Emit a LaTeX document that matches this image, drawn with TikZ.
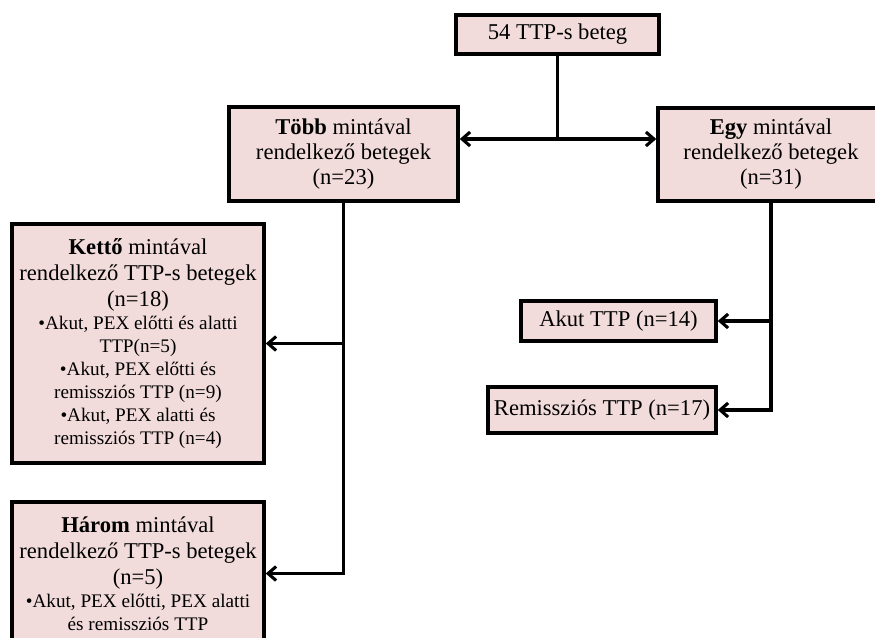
\documentclass[tikz,border=0pt]{standalone}
\usepackage{fontspec}
\setmainfont{Liberation Serif}
\usetikzlibrary{arrows.meta}
\definecolor{boxfill}{RGB}{242,220,219}
\newcommand{\smalltx}{\fontsize{19.2}{23}\selectfont}
\begin{document}
\begin{tikzpicture}[x=1pt,y=-1pt,
 box/.style={draw=black,line width=3.5pt,fill=boxfill,align=center,inner sep=0pt,
   font=\fontsize{22.6}{23}\selectfont},
 conn/.style={line width=3.1pt,draw=black},
 arr/.style={conn,-{Straight Barb[length=8pt,width=14pt]}}]
\useasboundingbox (0,0) rectangle (875,637);
\clip (0,0) rectangle (875,637);
\node[box,minimum width=203pt,minimum height=39pt] (top) at (557.5,34.5) {54 TTP-s beteg};
\node[box,minimum width=229pt,minimum height=94pt] (tobb) at (343.5,154)
  {\textbf{Több} mintával\\[2pt]rendelkező betegek\\[2pt](n=23)};
\node[box,minimum width=226pt,minimum height=93pt] (egy) at (771,154.5)
  {\textbf{Egy} mintával\\[2pt]rendelkező betegek\\[2pt](n=31)};
\node[box,minimum width=252pt,minimum height=239pt] (ketto) at (138,343.5)
  {\textbf{Kettő} mintával\\[3pt]rendelkező TTP-s betegek\\[3pt](n=18)\\
   {\smalltx •Akut, PEX előtti és alatti}\\{\smalltx TTP(n=5)}\\
   {\smalltx •Akut, PEX előtti és}\\{\smalltx remissziós TTP (n=9)}\\
   {\smalltx •Akut, PEX alatti és}\\{\smalltx remissziós TTP (n=4)}};
\node[box,minimum width=252pt,minimum height=143pt] (harom) at (138,573.5)
  {\textbf{Három} mintával\\[3pt]rendelkező TTP-s betegek\\[3pt](n=5)\\
   {\smalltx •Akut, PEX előtti, PEX alatti}\\{\smalltx és remissziós TTP}};
\node[box,minimum width=195pt,minimum height=40pt] (akut) at (618.5,321) {Akut TTP (n=14)};
\node[box,minimum width=228pt,minimum height=46pt] (remis) at (602,410) {Remissziós TTP (n=17)};
\coordinate (j1) at (557.5,139);
\draw[conn] (top.south) -- (j1);
\draw[arr] (j1) -- (j1 -| tobb.east);
\draw[arr] (j1) -- (j1 -| egy.west);
\draw[arr] (tobb.south) |- (harom.east);
\draw[arr] (tobb.south |- ketto.east) -- (ketto.east);
\draw[arr] (egy.south) |- (remis.east);
\draw[arr] (egy.south |- akut.east) -- (akut.east);
\end{tikzpicture}
\end{document}
